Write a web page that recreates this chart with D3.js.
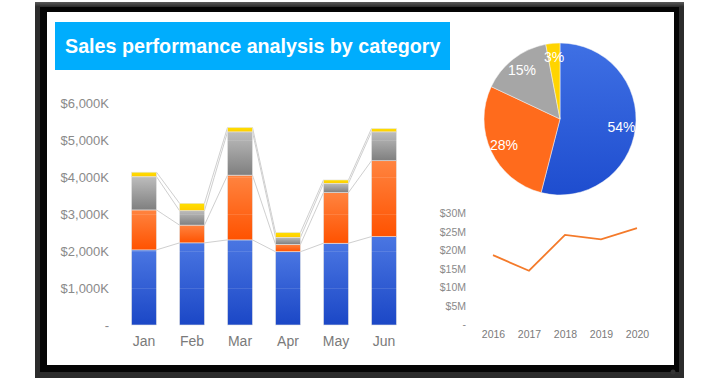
<!DOCTYPE html>
<html>
<head>
<meta charset="utf-8">
<script src="https://cdn.jsdelivr.net/npm/d3@7"></script>
<style>
  body { margin: 0; background: #fff; }
  svg { display: block; font-family: 'Liberation Sans', Arial, sans-serif; }
</style>
</head>
<body>
<div class="vis"></div>
<script>
const months = ['Jan', 'Feb', 'Mar', 'Apr', 'May', 'Jun']
const seriesKeys = ['a', 'b', 'c', 'd']
// monthly sales in $K per category
const catA = [2030, 2220, 2300, 1980, 2210, 2390]
const catB = [1080, 480, 1750, 200, 1370, 2050]
const catC = [900, 390, 1170, 190, 250, 780]
const catD = [120, 200, 120, 130, 90, 90]
const barTicks = [0, 1000, 2000, 3000, 4000, 5000, 6000]

const shareLabels = ['54%', '28%', '15%', '3%']
const shareValues = [54, 28, 15, 3]

const years = ['2016', '2017', '2018', '2019', '2020']
const yearSales = [18.6, 14.4, 24.1, 22.9, 25.9]
const lineTicks = [0, 5, 10, 15, 20, 25, 30]

const W = 719
const H = 380

const svg = d3.select('.vis').append('svg').attr('width', W).attr('height', H)
const defs = svg.append('defs')

function vGrad(id, top, bottom) {
  const g = defs.append('linearGradient').attr('id', id)
    .attr('x1', 0).attr('y1', 0).attr('x2', 0).attr('y2', 1)
  g.append('stop').attr('offset', '0%').attr('stop-color', top)
  g.append('stop').attr('offset', '100%').attr('stop-color', bottom)
}
vGrad('g-a', '#4a76e2', '#1b47c6')
vGrad('g-b', '#ff8440', '#ff5200')
vGrad('g-c', '#bdbdbd', '#7f7f7f')
vGrad('g-d', '#ffe000', '#ffcc00')
vGrad('p-a', '#3f70e4', '#1e4dcf')
vGrad('frame', '#5a5a5a', '#2a2a2a')

// monitor frame
svg.append('rect').attr('x', 35).attr('y', 2).attr('width', 649).attr('height', 376)
  .attr('fill', '#2c2c2c')
svg.append('rect').attr('x', 35).attr('y', 2).attr('width', 649).attr('height', 5)
  .attr('fill', 'url(#frame)')
svg.append('rect').attr('x', 40).attr('y', 7).attr('width', 639).attr('height', 365)
  .attr('fill', '#050505')
svg.append('rect').attr('x', 47).attr('y', 12).attr('width', 627).attr('height', 353)
  .attr('fill', '#fff')
svg.append('circle').attr('cx', 673).attr('cy', 372).attr('r', 2.5).attr('fill', '#333')

// title
svg.append('rect').attr('x', 55).attr('y', 22).attr('width', 395).attr('height', 48)
  .attr('fill', '#00adfd')
svg.append('text').attr('x', 65).attr('y', 53)
  .attr('fill', '#fff').attr('font-size', 19.7).attr('font-weight', 'bold')
  .text('Sales performance analysis by category')

// ---- stacked bars
const data = months.map((m, i) => ({ name: m, a: catA[i], b: catB[i], c: catC[i], d: catD[i] }))
const stacked = d3.stack().keys(seriesKeys)(data)

const x = d3.scaleBand().domain(months).range([120, 408]).paddingInner(0.48).paddingOuter(0.24)
const y = d3.scaleLinear().domain([0, 6000]).range([325, 103])

const yAxis = d3.axisLeft(y).tickValues(barTicks).tickSize(0).tickPadding(0)
  .tickFormat(d => (d === 0 ? '-' : `$${d3.format(',')(d)}K`))
const yg = svg.append('g').attr('transform', 'translate(109,0)').call(yAxis)
yg.select('.domain').remove()
yg.selectAll('text').attr('fill', '#8a8a8a').attr('font-size', 13).attr('dy', '0.35em')

const xAxis = d3.axisBottom(x).tickSize(0).tickPadding(0)
const xg = svg.append('g').attr('transform', 'translate(0,336)').call(xAxis)
xg.select('.domain').remove()
xg.selectAll('text').attr('fill', '#7a7a7a').attr('font-size', 14).attr('dy', '0.71em')

// series lines between bars
stacked.forEach(layer => {
  for (let i = 0; i < layer.length - 1; i++) {
    svg.append('line')
      .attr('x1', x(months[i]) + x.bandwidth()).attr('y1', y(layer[i][1]))
      .attr('x2', x(months[i + 1])).attr('y2', y(layer[i + 1][1]))
      .attr('stroke', '#cfcfcf').attr('stroke-width', 1)
  }
})

stacked.forEach(layer => {
  svg.append('g').selectAll('rect').data(layer).join('rect')
    .attr('x', d => x(d.data.name))
    .attr('y', d => y(d[1]))
    .attr('width', x.bandwidth())
    .attr('height', d => y(d[0]) - y(d[1]))
    .attr('fill', `url(#g-${layer.key})`)
    .attr('stroke', '#e4e4e4').attr('stroke-width', 0.6)
})

// faint gridlines across bars
svg.append('g').selectAll('line').data(barTicks.slice(1)).join('line')
  .attr('x1', 125).attr('x2', 405)
  .attr('y1', d => y(d) + 0.5).attr('y2', d => y(d) + 0.5)
  .attr('stroke', '#fff').attr('stroke-opacity', 0.12)

// ---- pie
const pieColors = ['url(#p-a)', '#ff6b1c', '#a6a6a6', '#ffd400']
const pie = d3.pie().sort(null)(shareValues)
const arc = d3.arc().innerRadius(0).outerRadius(76)
const labelArc = d3.arc().innerRadius(62).outerRadius(62)
const pieG = svg.append('g').attr('transform', 'translate(560,119)')
pieG.selectAll('path').data(pie).join('path')
  .attr('d', arc)
  .attr('fill', (d, i) => pieColors[i])
  .attr('stroke', '#f4f4f4').attr('stroke-width', 0.5)
pieG.selectAll('text').data(pie).join('text')
  .attr('transform', d => `translate(${labelArc.centroid(d)})`)
  .attr('text-anchor', 'middle').attr('dy', '0.35em')
  .attr('fill', '#fff').attr('font-size', 14)
  .text((d, i) => shareLabels[i])

// ---- line chart
const lx = d3.scalePoint().domain(years).range([493, 637])
const ly = d3.scaleLinear().domain([0, 30]).range([324, 213])

const lyAxis = d3.axisLeft(ly).tickValues(lineTicks).tickSize(0).tickPadding(0)
  .tickFormat(d => (d === 0 ? '-' : `$${d}M`))
const lyg = svg.append('g').attr('transform', 'translate(466,0)').call(lyAxis)
lyg.select('.domain').remove()
lyg.selectAll('text').attr('fill', '#8a8a8a').attr('font-size', 10.5).attr('dy', '0.35em')

const lxAxis = d3.axisBottom(lx).tickSize(0).tickPadding(0)
const lxg = svg.append('g').attr('transform', 'translate(0,331)').call(lxAxis)
lxg.select('.domain').remove()
lxg.selectAll('text').attr('fill', '#7a7a7a').attr('font-size', 10.5).attr('dy', '0.71em')

svg.append('path')
  .datum(yearSales)
  .attr('fill', 'none').attr('stroke', '#f47a2a').attr('stroke-width', 1.8)
  .attr('d', d3.line().x((d, i) => lx(years[i])).y(d => ly(d)))
</script>
</body>
</html>
